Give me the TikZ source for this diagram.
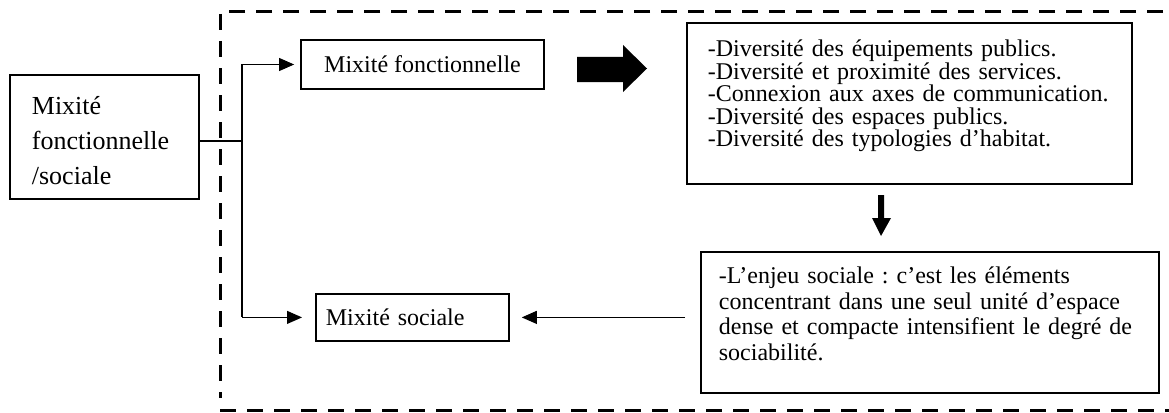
\documentclass[tikz,border=0pt]{standalone}
\usepackage{fontspec}
\setmainfont{Liberation Serif}
\usetikzlibrary{arrows.meta}
\frenchspacing

\tikzset{
  box/.style={draw=black, line width=1.8pt, anchor=north west, inner ysep=0pt},
  conn/.style={draw=black, line width=1.1pt},
  arr/.style={conn, -{Triangle[length=15pt,width=13pt]}},
  frame/.style={draw=black, line width=3pt, dash pattern=on 16pt off 11pt},
  block/.style={fill=black}
}

\begin{document}
\begin{tikzpicture}[x=1pt, y=-1pt]
  \useasboundingbox (0,0) rectangle (1169,412);

  % dashed frame round the two branches
  \draw[frame] (1163,12) -- (220,12) -- (220,398);
  \draw[frame] (220,410) -- (1169,410);

  % left box
  \node[box, inner xsep=22pt, text width=145pt, align=left,
        text height=40pt, text depth=84pt,
        font=\fontsize{26}{35}\selectfont] (lb) at (9,74)
        {Mixité\\fonctionnelle\\/sociale};

  % upper branch box
  \node[box, anchor=center, inner sep=0pt, minimum width=243pt, minimum height=49pt,
        font=\fontsize{24}{26}\selectfont] (mf) at (422.5,64.5)
        {Mixité fonctionnelle};

  % lower branch box
  \node[box, inner xsep=10pt, text width=173pt, align=left, minimum height=47pt,
        font=\fontsize{24}{26}\selectfont] (ms) at (315,293)
        {Mixité sociale};

  % list of functional components
  \node[box, inner xsep=21pt, text width=403pt, align=left,
        text height=34pt, text depth=127pt,
        font=\fontsize{24}{22.5}\selectfont] (fl) at (686,22)
        {-Diversité des équipements publics.\\
         -Diversité et proximité des services.\\
         -Connexion aux axes de communication.\\
         -Diversité des espaces publics.\\
         -Diversité des typologies d’habitat.};

  % social stake box
  \node[box, inner xsep=18pt, text width=422pt, align=left,
        text height=32pt, text depth=109pt,
        font=\fontsize{24}{25.5}\selectfont] (br) at (700,251)
        {-L’enjeu sociale : c’est les éléments\\
         concentrant dans une seul unité d’espace\\
         dense et compacte intensifient le degré de\\
         sociabilité.};

  % split connector from the left box
  \coordinate (j) at (242,141);
  \draw[conn] (lb.east |- j) -- (j);
  \draw[conn] (j |- mf.west) -- (j |- ms.west);
  \draw[arr] (j |- mf.west) -- ([xshift=-6pt]mf.west);
  \draw[arr] (j |- ms.west) -- ([xshift=-13pt]ms.west);

  % block arrows
  \fill[block] (577,57) -- (623,57) -- (623,45) -- (647,68.5)
               -- (623,92) -- (623,82) -- (577,82) -- cycle;
  \fill[block] (878,195) -- (884,195) -- (884,218) -- (891,218)
               -- (881,236) -- (872,218) -- (878,218) -- cycle;

  % back arrow to the lower branch
  \coordinate (s) at ([xshift=-15pt]br.west);
  \draw[arr] (s |- ms.east) -- ([xshift=12pt]ms.east);
\end{tikzpicture}
\end{document}
